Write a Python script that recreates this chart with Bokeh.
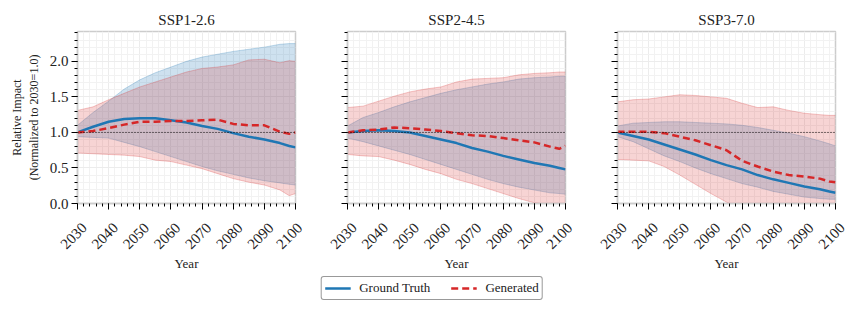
import math
from bokeh.plotting import figure
from bokeh.models import (Range1d, Span, SingleIntervalTicker, FixedTicker, Legend, LegendItem,
                          PrintfTickFormatter, CustomJSTickFormatter)
from bokeh.layouts import column, row
from bokeh.embed import file_html
from bokeh.resources import INLINE

years = [2030, 2035, 2040, 2045, 2050, 2055, 2060, 2065, 2070, 2075, 2080, 2085, 2090, 2095, 2098, 2100]
titles = ["SSP1-2.6", "SSP2-4.5", "SSP3-7.0"]
year_ticks = [2030, 2040, 2050, 2060, 2070, 2080, 2090, 2100]
year_tick_labels = ["2030", "2040", "2050", "2060", "2070", "2080", "2090", "2100"]
y_limits = (0.0, 2.42)
x_limits = (2030, 2100)

# SSP1-2.6
ssp126_gt    = [1.00, 1.08, 1.15, 1.19, 1.20, 1.20, 1.17, 1.14, 1.09, 1.05, 0.99, 0.94, 0.90, 0.85, 0.81, 0.79]
ssp126_gt_lo = [0.94, 0.93, 0.92, 0.86, 0.80, 0.73, 0.66, 0.59, 0.52, 0.46, 0.41, 0.36, 0.32, 0.29, 0.27, 0.26]
ssp126_gt_hi = [1.10, 1.28, 1.44, 1.61, 1.74, 1.84, 1.92, 2.00, 2.06, 2.10, 2.14, 2.17, 2.20, 2.24, 2.25, 2.25]
ssp126_gen    = [1.00, 1.02, 1.06, 1.11, 1.15, 1.15, 1.16, 1.16, 1.17, 1.18, 1.12, 1.10, 1.10, 1.01, 0.98, 1.00]
ssp126_gen_lo = [0.71, 0.70, 0.69, 0.68, 0.66, 0.61, 0.59, 0.54, 0.49, 0.42, 0.35, 0.30, 0.26, 0.19, 0.11, 0.14]
ssp126_gen_hi = [1.31, 1.36, 1.46, 1.55, 1.64, 1.71, 1.78, 1.85, 1.90, 1.92, 1.95, 2.02, 2.03, 1.98, 2.01, 2.00]

# SSP2-4.5
ssp245_gt    = [1.00, 1.02, 1.03, 1.02, 1.00, 0.95, 0.90, 0.85, 0.78, 0.73, 0.67, 0.62, 0.57, 0.53, 0.50, 0.48]
ssp245_gt_lo = [0.92, 0.87, 0.81, 0.75, 0.69, 0.62, 0.55, 0.48, 0.41, 0.34, 0.28, 0.23, 0.19, 0.15, 0.14, 0.13]
ssp245_gt_hi = [1.09, 1.21, 1.28, 1.36, 1.43, 1.49, 1.55, 1.60, 1.64, 1.68, 1.71, 1.75, 1.77, 1.78, 1.79, 1.79]
ssp245_gen    = [1.00, 1.03, 1.04, 1.07, 1.06, 1.04, 1.02, 0.99, 0.96, 0.95, 0.92, 0.89, 0.86, 0.80, 0.77, 0.81]
ssp245_gen_lo = [0.69, 0.67, 0.66, 0.61, 0.55, 0.48, 0.42, 0.34, 0.28, 0.21, 0.14, 0.07, 0.01, -0.02, -0.04, -0.05]
ssp245_gen_hi = [1.35, 1.37, 1.44, 1.51, 1.57, 1.61, 1.64, 1.71, 1.75, 1.76, 1.77, 1.81, 1.83, 1.84, 1.85, 1.85]

# SSP3-7.0
ssp370_gt    = [1.00, 0.95, 0.90, 0.83, 0.76, 0.69, 0.61, 0.54, 0.48, 0.40, 0.34, 0.29, 0.24, 0.20, 0.17, 0.15]
ssp370_gt_lo = [0.94, 0.87, 0.77, 0.67, 0.59, 0.50, 0.42, 0.35, 0.28, 0.23, 0.17, 0.13, 0.09, 0.07, 0.06, 0.06]
ssp370_gt_hi = [1.09, 1.13, 1.14, 1.15, 1.15, 1.14, 1.13, 1.12, 1.10, 1.07, 1.03, 0.99, 0.94, 0.88, 0.84, 0.81]
ssp370_gen    = [1.01, 1.01, 1.01, 0.99, 0.94, 0.89, 0.82, 0.75, 0.60, 0.52, 0.45, 0.40, 0.38, 0.35, 0.31, 0.30]
ssp370_gen_lo = [0.62, 0.61, 0.60, 0.52, 0.40, 0.27, 0.14, 0.02, -0.08, -0.15, -0.20, -0.22, -0.24, -0.25, -0.25, -0.25]
ssp370_gen_hi = [1.43, 1.46, 1.47, 1.50, 1.53, 1.52, 1.50, 1.48, 1.41, 1.35, 1.36, 1.31, 1.27, 1.25, 1.24, 1.24]

panels = [
    (ssp126_gt, ssp126_gt_lo, ssp126_gt_hi, ssp126_gen, ssp126_gen_lo, ssp126_gen_hi),
    (ssp245_gt, ssp245_gt_lo, ssp245_gt_hi, ssp245_gen, ssp245_gen_lo, ssp245_gen_hi),
    (ssp370_gt, ssp370_gt_lo, ssp370_gt_hi, ssp370_gen, ssp370_gen_lo, ssp370_gen_hi),
]

BLUE = "#1f77b4"
RED = "#d62728"
FONT = "Liberation Serif"
TXT = "#222222"

figs = []
for i, (gt, gtlo, gthi, gen, genlo, genhi) in enumerate(panels):
    left = 77 if i == 0 else 42
    right = 10 if i < 2 else 18
    p = figure(frame_width=218, frame_height=172,
               output_backend="svg", toolbar_location=None,
               x_range=Range1d(*x_limits), y_range=Range1d(*y_limits))
    p.min_border_left = left
    p.min_border_right = right
    p.min_border_top = 31
    p.min_border_bottom = 72
    p.title.text = titles[i]
    p.title.align = "center"
    p.title.text_font = FONT
    p.title.text_font_size = "15px"
    p.title.text_font_style = "normal"
    p.title.text_color = TXT
    p.title.standoff = 8

    p.varea(x=years, y1=gtlo, y2=gthi, fill_color=BLUE, fill_alpha=0.22)
    p.line(years, gtlo, line_color=BLUE, line_alpha=0.25, line_width=1)
    p.line(years, gthi, line_color=BLUE, line_alpha=0.25, line_width=1)
    p.varea(x=years, y1=genlo, y2=genhi, fill_color=RED, fill_alpha=0.2)
    p.line(years, genlo, line_color=RED, line_alpha=0.25, line_width=1)
    p.line(years, genhi, line_color=RED, line_alpha=0.25, line_width=1)
    p.add_layout(Span(location=1.0, dimension="width", line_color="black", line_dash="1 2", line_width=1))
    p.line(years, gt, line_color=BLUE, line_width=2.5)
    p.line(years, gen, line_color=RED, line_width=2.5, line_dash="7 4")

    p.xaxis.ticker = FixedTicker(ticks=year_ticks,
                                 minor_ticks=list(range(x_limits[0], x_limits[1] + 1, 2)))
    p.yaxis.ticker = SingleIntervalTicker(interval=0.5, num_minor_ticks=5)
    p.xaxis.major_label_orientation = math.pi / 4
    # a leading blank line pushes each rotated label so that it sits centred under its tick
    p.xaxis.major_label_overrides = {t: "\n" + s for t, s in zip(year_ticks, year_tick_labels)}
    p.xaxis.axis_label = "Year"
    if i == 0:
        p.yaxis.axis_label = "Relative Impact\n(Normalized to 2030=1.0)"
        p.yaxis.formatter = PrintfTickFormatter(format="%.1f")
    else:
        p.yaxis.formatter = CustomJSTickFormatter(code="return ''")

    p.axis.axis_line_color = "#cccccc"
    p.axis.axis_line_width = 1.5
    p.axis.major_tick_line_color = "black"
    p.axis.minor_tick_line_color = "black"
    p.axis.major_tick_out = 6
    p.axis.major_tick_in = 0
    p.axis.minor_tick_out = 3
    p.axis.minor_tick_in = 0
    p.axis.major_label_text_font = FONT
    p.axis.major_label_text_font_size = "15px"
    p.axis.major_label_text_color = TXT
    p.yaxis.major_label_standoff = 3
    p.xaxis.major_label_standoff = 9
    p.axis.axis_label_text_font = FONT
    p.axis.axis_label_text_font_style = "normal"
    p.axis.axis_label_text_color = TXT
    p.xaxis.axis_label_text_font_size = "13px"
    p.yaxis.axis_label_text_font_size = "12px"
    p.xaxis.axis_label_standoff = -12
    p.yaxis.axis_label_standoff = 6

    p.outline_line_color = "#cccccc"
    p.outline_line_width = 1.5
    p.xgrid.grid_line_color = "#e8e8e8"
    p.ygrid.grid_line_color = "#e8e8e8"
    p.xgrid.grid_line_alpha = 0.6
    p.ygrid.grid_line_alpha = 0.6
    p.xgrid.minor_grid_line_color = "#f2f2f2"
    p.ygrid.minor_grid_line_color = "#f2f2f2"
    figs.append(p)

# legend figure
lf = figure(width=863, height=26, output_backend="svg", toolbar_location=None,
            x_range=Range1d(0, 1), y_range=Range1d(0, 1))
lf.axis.visible = False
lf.grid.visible = False
lf.outline_line_color = None
lf.min_border = 0
r1 = lf.line([-5, -4], [-5, -5], line_color=BLUE, line_width=2.5)
r2 = lf.line([-5, -4], [-5, -5], line_color=RED, line_width=2.5, line_dash="7 4")
leg = Legend(items=[LegendItem(label="Ground Truth", renderers=[r1]),
                    LegendItem(label="Generated", renderers=[r2])],
             orientation="horizontal", location="center")
leg.label_text_font = FONT
leg.label_text_font_size = "13px"
leg.label_text_color = TXT
leg.border_line_color = "#333333"
leg.border_line_width = 1.2
leg.border_radius = 3
leg.glyph_width = 26
leg.glyph_height = 14
leg.spacing = 20
leg.padding = 3
leg.margin = 0
leg.label_standoff = 9
leg.label_height = 14
lf.add_layout(leg, "center")

layout = column(row(*figs, spacing=0), lf, spacing=0)
open("out.html", "w").write(file_html(layout, INLINE))
